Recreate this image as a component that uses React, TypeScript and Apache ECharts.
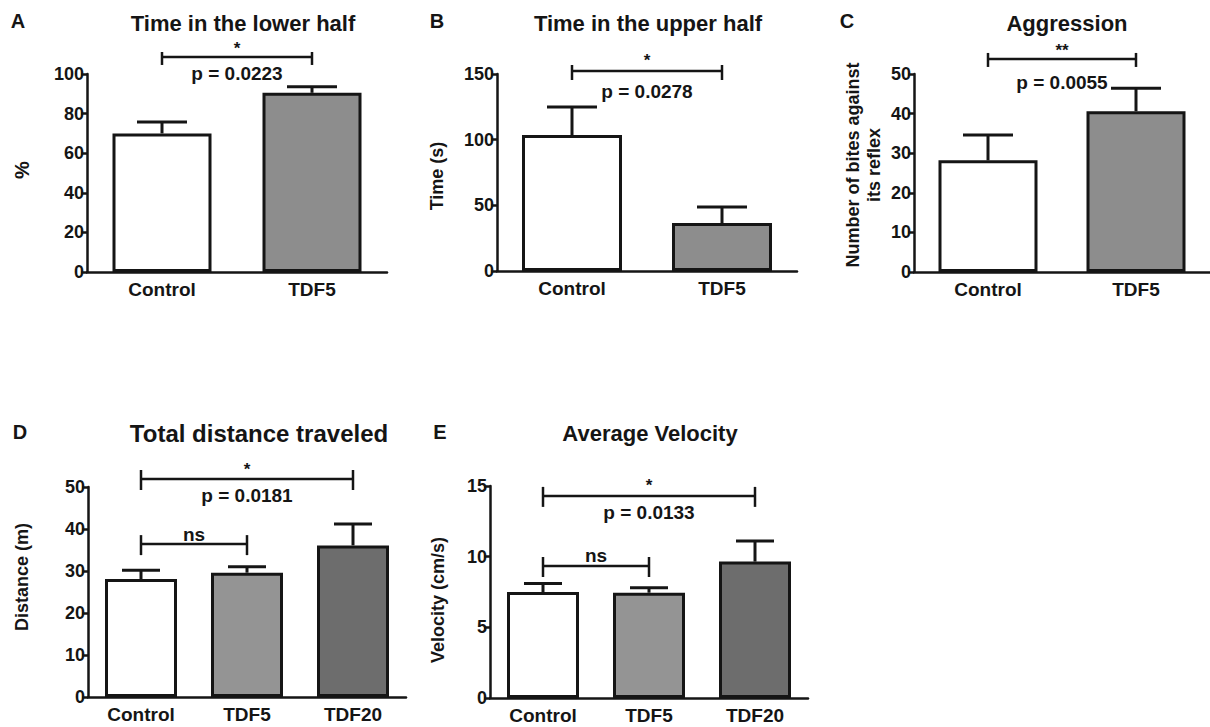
import React, { useEffect, useRef } from "react";
import * as echarts from "echarts";

// ---------- data ----------
const catsAB = ["Control", "TDF5"];
const cats3 = ["Control", "TDF5", "TDF20"];

const lowerHalfMean = [70, 90.5];
const lowerHalfTop = [75.8, 93.6];
const upperHalfMean = [103.5, 36.5];
const upperHalfTop = [124.9, 48.7];
const aggressionMean = [28.2, 40.6];
const aggressionTop = [34.6, 46.4];
const distanceMean = [28.1, 29.6, 36.1];
const distanceTop = [30.2, 31.0, 41.2];
const velocityMean = [7.5, 7.45, 9.65];
const velocityTop = [8.1, 7.8, 11.1];

const yMaxs = [100, 150, 50, 50, 15];
const yIntervals = [20, 50, 10, 10, 5];

// brackets: [startIdx, endIdx, level]
const bracketsA = [[0, 1, 108.6]];
const bracketsB = [[0, 1, 152.3]];
const bracketsC = [[0, 1, 53.8]];
const bracketsD = [[0, 2, 51.9], [0, 1, 36.4]];
const bracketsE = [[0, 2, 14.3], [0, 1, 9.34]];
const starsA = ["*"];
const starsB = ["*"];
const starsC = ["**"];
const starsD = ["*", "ns"];
const starsE = ["*", "ns"];
const pA = ["p = 0.0223"];
const pB = ["p = 0.0278"];
const pC = ["p = 0.0055"];
const pD = ["p = 0.0181", ""];
const pE = ["p = 0.0133", ""];

const titles = ["Time in the lower half", "Time in the upper half", "Aggression", "Total distance traveled", "Average Velocity"];
const letters = ["A", "B", "C", "D", "E"];
const yNames = ["%", "Time (s)", "Number of bites against\nits reflex", "Distance (m)", "Velocity (cm/s)"];

// ---------- styles ----------
const FONT = '"Liberation Sans", Arial, Helvetica, sans-serif';
const INK = "#151515";
const colors2 = ["#ffffff", "#8d8d8d"];
const colors3 = ["#ffffff", "#949494", "#6d6d6d"];

const panels = [
  { cats: catsAB, mean: lowerHalfMean, top: lowerHalfTop, br: bracketsA, st: starsA, p: pA, colors: colors2,
    grid: { left: 87, top: 74, width: 300, height: 198 }, barW: 99, capW: 50,
    title: [243, 23], letter: [18, 21], yl: [22, 170], ylSize: 20, titleSize: 22, tick: [-5, 8], starDy: -12, pDy: 17 },
  { cats: catsAB, mean: upperHalfMean, top: upperHalfTop, br: bracketsB, st: starsB, p: pB, colors: colors2,
    grid: { left: 497, top: 74, width: 300, height: 197 }, barW: 100, capW: 50,
    title: [648, 23], letter: [437, 21], yl: [437, 176], ylSize: 18, titleSize: 22, tick: [-6, 9], starDy: -14, pDy: 21 },
  { cats: catsAB, mean: aggressionMean, top: aggressionTop, br: bracketsC, st: starsC, p: pC, colors: colors2,
    grid: { left: 914, top: 74, width: 302, height: 198 }, barW: 99, capW: 50,
    title: [1067, 23], letter: [847, 21], yl: [863, 165], ylSize: 18, titleSize: 22, tick: [-6, 8], starDy: -12, pDy: 24 },
  { cats: cats3, mean: distanceMean, top: distanceTop, br: bracketsD, st: starsD, p: pD, colors: colors3,
    grid: { left: 88, top: 487, width: 318, height: 210 }, barW: 72, capW: 38,
    title: [259, 433], letter: [20, 432], yl: [22, 577], ylSize: 18, titleSize: 24, tick: [-9, 11], starDy: -14, pDy: 16 },
  { cats: cats3, mean: velocityMean, top: velocityTop, br: bracketsE, st: starsE, p: pE, colors: colors3,
    grid: { left: 490, top: 486, width: 318, height: 212 }, barW: 72, capW: 38,
    title: [650, 433], letter: [440, 432], yl: [438, 600], ylSize: 18, titleSize: 22, tick: [-9, 11], starDy: -14, pDy: 17 },
];

function buildOption() {
  const grids: any[] = [];
  const xAxes: any[] = [];
  const yAxes: any[] = [];
  const series: any[] = [];
  const graphics: any[] = [];

  panels.forEach((pn, i) => {
    grids.push({ ...pn.grid, containLabel: false });
    xAxes.push({
      type: "category", gridIndex: i, data: pn.cats,
      axisLine: { lineStyle: { color: INK, width: 2.5 } },
      axisTick: { alignWithLabel: true, length: 5, lineStyle: { color: INK, width: 2.5 } },
      axisLabel: { color: INK, fontFamily: FONT, fontWeight: "bold", fontSize: 19, margin: 8 },
      splitLine: { show: false },
    });
    yAxes.push({
      type: "value", gridIndex: i, min: 0, max: yMaxs[i], interval: yIntervals[i],
      axisLine: { show: true, lineStyle: { color: INK, width: 2.5 } },
      axisTick: { show: true, length: 6, lineStyle: { color: INK, width: 2.5 } },
      axisLabel: { color: INK, fontFamily: FONT, fontWeight: "bold", fontSize: 18, margin: 3 },
      splitLine: { show: false },
    });
    series.push({
      type: "bar", xAxisIndex: i, yAxisIndex: i, barWidth: pn.barW, z: 2,
      data: pn.mean.map((v, k) => ({ value: v, itemStyle: { color: pn.colors[k] } })),
      itemStyle: { borderColor: INK, borderWidth: 3 },
    });
    const capW = pn.capW;
    series.push({
      type: "custom", xAxisIndex: i, yAxisIndex: i, z: 3,
      encode: { x: 0, y: [1, 2] },
      data: pn.mean.map((v, k) => [k, v, pn.top[k]]),
      renderItem: (params: any, api: any) => {
        const x = api.value(0);
        const p0 = api.coord([x, api.value(1)]);
        const p1 = api.coord([x, api.value(2)]);
        const hw = capW / 2;
        return {
          type: "group",
          children: [
            { type: "line", shape: { x1: p0[0], y1: p0[1], x2: p1[0], y2: p1[1] }, style: { stroke: INK, lineWidth: 3 } },
            { type: "line", shape: { x1: p1[0] - hw, y1: p1[1], x2: p1[0] + hw, y2: p1[1] }, style: { stroke: INK, lineWidth: 3 } },
          ],
        };
      },
    });
    const st = pn.st, pt = pn.p, tk = pn.tick, sDy = pn.starDy, pDy = pn.pDy;
    series.push({
      type: "custom", xAxisIndex: i, yAxisIndex: i, z: 4, clip: false,
      encode: { x: [0, 1], y: 2 },
      data: pn.br,
      renderItem: (params: any, api: any) => {
        const a = api.coord([api.value(0), api.value(2)]);
        const b = api.coord([api.value(1), api.value(2)]);
        const y = a[1];
        const mid = (a[0] + b[0]) / 2;
        const label = st[params.dataIndex];
        const isNs = label === "ns";
        const children: any[] = [
          { type: "line", shape: { x1: a[0], y1: y, x2: b[0], y2: y }, style: { stroke: INK, lineWidth: 2.5 } },
          { type: "line", shape: { x1: a[0], y1: y + tk[0], x2: a[0], y2: y + tk[1] }, style: { stroke: INK, lineWidth: 2.5 } },
          { type: "line", shape: { x1: b[0], y1: y + tk[0], x2: b[0], y2: y + tk[1] }, style: { stroke: INK, lineWidth: 2.5 } },
          {
            type: "text", x: mid, y: isNs ? y - 10 : y + sDy + 4,
            style: { text: label, fill: INK, font: `bold ${isNs ? 19 : 17}px ${FONT}`, textAlign: "center", textVerticalAlign: "middle" },
          },
        ];
        if (pt[params.dataIndex]) {
          children.push({
            type: "text", x: mid, y: y + pDy,
            style: { text: pt[params.dataIndex], fill: INK, font: `bold 19px ${FONT}`, textAlign: "center", textVerticalAlign: "middle" },
          });
        }
        return { type: "group", children };
      },
    });

    graphics.push({
      type: "text", x: pn.title[0], y: pn.title[1],
      style: { text: titles[i], fill: INK, font: `bold ${pn.titleSize}px ${FONT}`, textAlign: "center", textVerticalAlign: "middle" },
    });
    graphics.push({
      type: "text", x: pn.letter[0], y: pn.letter[1],
      style: { text: letters[i], fill: INK, font: `bold 20px ${FONT}`, textAlign: "center", textVerticalAlign: "middle" },
    });
    graphics.push({
      type: "text", x: pn.yl[0], y: pn.yl[1], rotation: Math.PI / 2,
      style: { text: yNames[i], fill: INK, font: `bold ${pn.ylSize}px ${FONT}`, textAlign: "center", textVerticalAlign: "middle", lineHeight: 21 },
    });
  });

  return {
    animation: false,
    backgroundColor: "#ffffff",
    grid: grids,
    xAxis: xAxes,
    yAxis: yAxes,
    series,
    graphic: graphics,
  };
}

export default function App() {
  const ref = useRef<HTMLDivElement>(null);
  useEffect(() => {
    if (!ref.current) return;
    const chart = echarts.init(ref.current, undefined, { renderer: "svg" });
    chart.setOption(buildOption() as any);
    return () => chart.dispose();
  }, []);
  return (
    <div
      ref={ref}
      style={{ position: "fixed", left: 0, top: 0, width: 1210, height: 727, background: "#fff" }}
    />
  );
}
